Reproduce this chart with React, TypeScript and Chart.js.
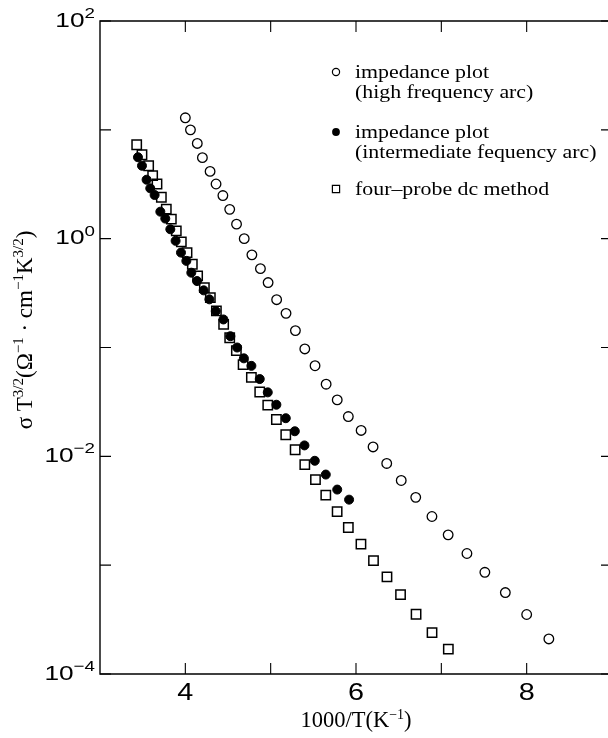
import React, { useEffect, useRef } from 'react';
import { Chart, registerables } from 'chart.js';

Chart.register(...registerables);

// ---- data ----
const openX = [4.00, 4.06, 4.14, 4.20, 4.29, 4.36, 4.44, 4.52, 4.60, 4.69, 4.78, 4.88, 4.97, 5.07, 5.18, 5.29, 5.40, 5.52, 5.65, 5.78, 5.91, 6.06, 6.20, 6.36, 6.53, 6.70, 6.89, 7.08, 7.30, 7.51, 7.75, 8.00, 8.26];
const openY = [12.9, 10.0, 7.5, 5.55, 4.15, 3.18, 2.49, 1.86, 1.36, 1.0, 0.71, 0.53, 0.395, 0.275, 0.206, 0.143, 0.097, 0.068, 0.046, 0.033, 0.0232, 0.0173, 0.0122, 0.0086, 0.006, 0.0042, 0.0028, 0.0019, 0.00128, 0.00086, 0.00056, 0.000352, 0.00021];

const filledX = [3.445, 3.492, 3.546, 3.589, 3.640, 3.707, 3.765, 3.824, 3.886, 3.949, 4.012, 4.070, 4.137, 4.215, 4.282, 4.356, 4.446, 4.528, 4.607, 4.686, 4.774, 4.872, 4.966, 5.067, 5.177, 5.283, 5.396, 5.517, 5.646, 5.780, 5.919];
const filledY = [5.6, 4.68, 3.48, 2.9, 2.52, 1.77, 1.53, 1.22, 0.955, 0.745, 0.625, 0.487, 0.408, 0.335, 0.277, 0.216, 0.181, 0.127, 0.1, 0.0795, 0.0678, 0.0513, 0.0387, 0.0298, 0.0224, 0.017, 0.0126, 0.0091, 0.0068, 0.00495, 0.004];

const squareX = [3.430, 3.492, 3.570, 3.617, 3.668, 3.719, 3.777, 3.836, 3.894, 3.953, 4.020, 4.082, 4.144, 4.223, 4.293, 4.364, 4.449, 4.520, 4.598, 4.677, 4.774, 4.872, 4.966, 5.067, 5.177, 5.287, 5.400, 5.525, 5.646, 5.779, 5.910, 6.058, 6.205, 6.363, 6.522, 6.704, 6.891, 7.082];
const squareY = [7.3, 5.9, 4.68, 3.8, 3.18, 2.4, 1.87, 1.51, 1.18, 0.935, 0.745, 0.582, 0.455, 0.355, 0.287, 0.217, 0.163, 0.123, 0.0935, 0.0697, 0.0532, 0.039, 0.0295, 0.0218, 0.0158, 0.0115, 0.0084, 0.0061, 0.0044, 0.0031, 0.00222, 0.00156, 0.0011, 0.00078, 0.000537, 0.000354, 0.00024, 0.000169];

const xMin = 3;
const xMax = 9;
const xTickValues = [4, 5, 6, 7, 8];
const xTickLabels = ['4', '', '6', '', '8'];
const yDecades = [-4, -3, -2, -1, 0, 1, 2];
const yLabelExps = [-4, -2, 0, 2];

const legendEntries = [
  { lines: ['impedance plot', '(high frequency arc)'], marker: 'open' },
  { lines: ['impedance plot', '(intermediate fequency arc)'], marker: 'filled' },
  { lines: ['four\u2013probe dc method'], marker: 'square' },
];

const SANS = '"Liberation Sans", Arial, Helvetica, sans-serif';
const SERIF = '"Liberation Serif", "Times New Roman", Times, serif';

type Part = [string, boolean];

function drawRich(
  ctx: CanvasRenderingContext2D,
  parts: Part[],
  x: number,
  y: number,
  align: 'left' | 'center' | 'right',
  baseFont: string,
  supFont: string,
  supRaise: number,
  sx: number
) {
  ctx.textAlign = 'left';
  ctx.textBaseline = 'alphabetic';
  const widths = parts.map(([t, s]) => {
    ctx.font = s ? supFont : baseFont;
    return ctx.measureText(t).width;
  });
  const total = widths.reduce((a, b) => a + b, 0) * sx;
  const start = align === 'right' ? x - total : align === 'center' ? x - total / 2 : x;
  ctx.save();
  ctx.translate(start, y);
  ctx.scale(sx, 1);
  let cx = 0;
  parts.forEach(([t, s], i) => {
    ctx.font = s ? supFont : baseFont;
    ctx.fillText(t, cx, s ? -supRaise : 0);
    cx += widths[i];
  });
  ctx.restore();
}

const framePlugin = {
  id: 'framePlugin',
  afterDraw(chart: any) {
    const ctx: CanvasRenderingContext2D = chart.ctx;
    const { left, right, top, bottom } = chart.chartArea;
    const xs = chart.scales.x;
    const ys = chart.scales.y;
    ctx.save();
    ctx.strokeStyle = '#000';
    ctx.fillStyle = '#000';
    // frame
    ctx.lineWidth = 1.4;
    ctx.beginPath();
    ctx.rect(left, top, right - left, bottom - top);
    ctx.stroke();
    // inward ticks
    const tl = 11;
    ctx.lineWidth = 1.1;
    ctx.beginPath();
    xTickValues.forEach((v) => {
      const px = xs.getPixelForValue(v);
      ctx.moveTo(px, bottom);
      ctx.lineTo(px, bottom - tl);
      ctx.moveTo(px, top);
      ctx.lineTo(px, top + tl);
    });
    yDecades.forEach((e) => {
      const py = ys.getPixelForValue(Math.pow(10, e));
      ctx.moveTo(left, py);
      ctx.lineTo(left + tl, py);
      ctx.moveTo(right, py);
      ctx.lineTo(right - tl, py);
    });
    ctx.stroke();

    // x tick labels
    xTickValues.forEach((v, i) => {
      const lab = xTickLabels[i];
      if (!lab) return;
      const px = xs.getPixelForValue(v);
      drawRich(ctx, [[lab, false]], px, 700, 'center', `24px ${SANS}`, `14px ${SANS}`, 0, 1.2);
    });
    // y tick labels 10^n
    yLabelExps.forEach((e) => {
      const py = ys.getPixelForValue(Math.pow(10, e));
      const expStr = e < 0 ? '\u2212' + String(-e) : String(e);
      drawRich(ctx, [['10', false], [expStr, true]], 95, py + 5.5, 'right', `21px ${SANS}`, `15px ${SANS}`, 8.5, 1.25);
    });

    // x title
    drawRich(
      ctx,
      [['1000/T(K', false], ['\u22121', true], [')', false]],
      356,
      727,
      'center',
      `22.5px ${SERIF}`,
      `14px ${SERIF}`,
      8,
      1.0
    );

    // y title (rotated)
    ctx.save();
    ctx.translate(32, 330);
    ctx.rotate(-Math.PI / 2);
    drawRich(
      ctx,
      [
        ['\u03c3 T', false],
        ['3/2', true],
        ['(\u03a9', false],
        ['\u22121', true],
        [' \u00b7 cm', false],
        ['\u22121', true],
        ['K', false],
        ['3/2', true],
        [')', false],
      ],
      0,
      0,
      'center',
      `23px ${SERIF}`,
      `15px ${SERIF}`,
      9,
      1.0
    );
    ctx.restore();

    // legend
    const mx = 336;
    const tx = 355;
    const entryY = [78, 138, 195];
    legendEntries.forEach((en, i) => {
      const by = entryY[i];
      const cy = by - 6;
      ctx.lineWidth = 1.2;
      ctx.beginPath();
      if (en.marker === 'open') {
        ctx.arc(mx, cy, 3.6, 0, Math.PI * 2);
        ctx.stroke();
      } else if (en.marker === 'filled') {
        ctx.arc(mx, cy, 3.9, 0, Math.PI * 2);
        ctx.fill();
      } else {
        ctx.rect(mx - 3.6, cy - 3.6, 7.2, 7.2);
        ctx.stroke();
      }
      en.lines.forEach((ln, j) => {
        drawRich(ctx, [[ln, false]], tx, by + j * 19.5, 'left', `19px ${SERIF}`, `12px ${SERIF}`, 0, 1.15);
      });
    });
    ctx.restore();
  },
};

export default function App() {
  const ref = useRef<HTMLCanvasElement>(null);
  useEffect(() => {
    const canvas = ref.current;
    if (!canvas) return;
    const toPts = (xs: number[], ys: number[]) => xs.map((x, i) => ({ x, y: ys[i] }));
    const chart = new Chart(canvas, {
      type: 'scatter',
      data: {
        datasets: [
          {
            label: 'impedance plot (intermediate fequency arc)',
            data: toPts(filledX, filledY),
            pointStyle: 'circle',
            pointRadius: 4.5,
            backgroundColor: '#000',
            borderColor: '#000',
            borderWidth: 1,
          },
          {
            label: 'four-probe dc method',
            data: toPts(squareX, squareY),
            pointStyle: 'rect',
            pointRadius: 6.6,
            backgroundColor: 'rgba(255,255,255,0)',
            borderColor: '#000',
            borderWidth: 1.5,
          },
          {
            label: 'impedance plot (high frequency arc)',
            data: toPts(openX, openY),
            pointStyle: 'circle',
            pointRadius: 4.8,
            backgroundColor: 'rgba(255,255,255,0)',
            borderColor: '#000',
            borderWidth: 1.3,
          },
        ],
      },
      options: {
        responsive: false,
        maintainAspectRatio: false,
        devicePixelRatio: 1,
        animation: false,
        layout: { autoPadding: false, padding: { left: 100, top: 21, right: 0, bottom: 64 } },
        scales: {
          x: { type: 'linear', min: xMin, max: xMax, display: false },
          y: { type: 'logarithmic', min: 1e-4, max: 100, display: false },
        },
        plugins: {
          legend: { display: false },
          tooltip: { enabled: false },
        },
      },
      plugins: [framePlugin],
    });
    return () => chart.destroy();
  }, []);
  return (
    <div
      style={{
        position: 'absolute',
        left: 0,
        top: 0,
        width: 608,
        height: 738,
        overflow: 'hidden',
        background: '#fff',
      }}
    >
      <canvas ref={ref} width={612} height={738} style={{ display: 'block', width: 612, height: 738 }} />
    </div>
  );
}
